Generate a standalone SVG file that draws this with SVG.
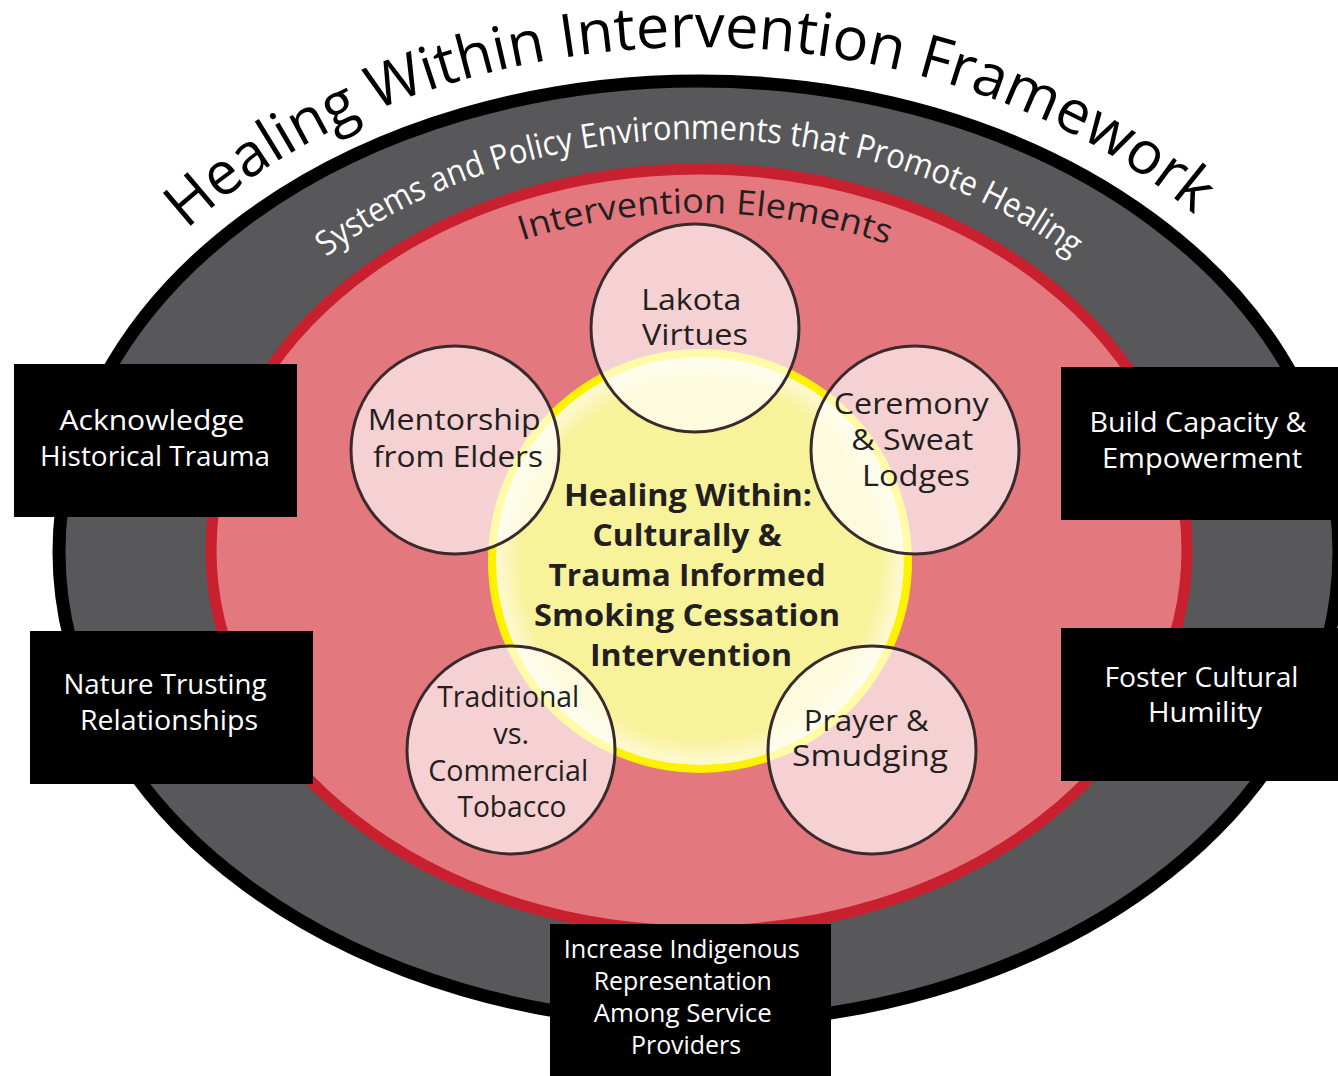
<svg xmlns="http://www.w3.org/2000/svg" width="1338" height="1076" viewBox="0 0 1338 1076">
  <defs>
    <style>
      .lbl { font-family: "Open Sans", "Liberation Sans", sans-serif; text-anchor: middle; }
      .box-t { fill: #ffffff; font-size: 27px; }
      .circ-t { fill: #231f20; font-size: 29px; }
      .core-t { fill: #231f20; font-size: 30px; font-weight: 700; }
      .box { fill: #000000; }
      .element { fill: #ffffff; fill-opacity: 0.66; stroke: #3a2a2c; stroke-width: 3; }
    </style>
    <radialGradient id="coreFill" cx="0.5" cy="0.5" r="0.5">
      <stop offset="0" stop-color="#f8f29b"/>
      <stop offset="0.86" stop-color="#f8f29b"/>
      <stop offset="0.95" stop-color="#fcf8c8"/>
      <stop offset="1" stop-color="#fdfad2"/>
    </radialGradient>
    <!-- baselines of the curved headings, concentric with the rings -->
    <path id="arcTitle" d="M 34,551 A 665 504 0 0 1 1364,551"/>
    <path id="arcSystems" d="M 167,551 A 532 412 0 0 1 1231,551"/>
    <path id="arcElements" d="M 251,551 A 448 338 0 0 1 1147,551"/>
  </defs>

  <rect x="0" y="0" width="1338" height="1076" fill="#ffffff"/>

  <!-- outer systems ring -->
  <g id="ring-systems">
    <ellipse cx="699" cy="552" rx="640" ry="471" fill="#58585a" stroke="#000000" stroke-width="13"/>
  </g>

  <!-- intervention elements field -->
  <g id="ring-elements">
    <ellipse cx="699" cy="550" rx="488" ry="381" fill="#e4787f" stroke="#c8202f" stroke-width="11"/>
  </g>

  <!-- curved headings -->
  <g id="headings" class="lbl">
    <text font-size="60" fill="#000000">
      <textPath href="#arcTitle" startOffset="911" textLength="1090" lengthAdjust="spacingAndGlyphs">Healing Within Intervention Framework</textPath>
    </text>
    <text font-size="34" fill="#ffffff">
      <textPath href="#arcSystems" startOffset="50%" textLength="795" lengthAdjust="spacingAndGlyphs">Systems and Policy Environments that Promote Healing</textPath>
    </text>
    <text font-size="34" fill="#231f20">
      <textPath href="#arcElements" startOffset="50.5%" textLength="372" lengthAdjust="spacingAndGlyphs">Intervention Elements</textPath>
    </text>
  </g>

  <!-- central intervention -->
  <g id="core">
    <circle cx="700" cy="561" r="208" fill="url(#coreFill)" stroke="#fff200" stroke-width="8"/>
    <text class="lbl core-t">
      <tspan x="692" y="506" textLength="248" lengthAdjust="spacingAndGlyphs">Healing Within:</tspan>
      <tspan x="691" y="546" textLength="189" lengthAdjust="spacingAndGlyphs">Culturally &amp;</tspan>
      <tspan x="691" y="586" textLength="277" lengthAdjust="spacingAndGlyphs">Trauma Informed</tspan>
      <tspan x="691" y="626" textLength="306" lengthAdjust="spacingAndGlyphs">Smoking Cessation</tspan>
      <tspan x="691" y="666" textLength="202" lengthAdjust="spacingAndGlyphs">Intervention</tspan>
    </text>
  </g>

  <!-- intervention element circles -->
  <g id="el-lakota">
    <circle class="element" cx="695" cy="328" r="104"/>
    <text class="lbl circ-t">
      <tspan x="695" y="310" textLength="100" lengthAdjust="spacingAndGlyphs">Lakota</tspan>
      <tspan x="695" y="345" textLength="106" lengthAdjust="spacingAndGlyphs">Virtues</tspan>
    </text>
  </g>
  <g id="el-mentorship">
    <circle class="element" cx="455" cy="450" r="104"/>
    <text class="lbl circ-t">
      <tspan x="458" y="430" textLength="173" lengthAdjust="spacingAndGlyphs">Mentorship</tspan>
      <tspan x="458" y="467" textLength="170" lengthAdjust="spacingAndGlyphs">from Elders</tspan>
    </text>
  </g>
  <g id="el-ceremony">
    <circle class="element" cx="915" cy="450" r="104"/>
    <text class="lbl circ-t">
      <tspan x="915" y="414" textLength="155" lengthAdjust="spacingAndGlyphs">Ceremony</tspan>
      <tspan x="916" y="450" textLength="122" lengthAdjust="spacingAndGlyphs">&amp; Sweat</tspan>
      <tspan x="916" y="486" textLength="108" lengthAdjust="spacingAndGlyphs">Lodges</tspan>
    </text>
  </g>
  <g id="el-tobacco">
    <circle class="element" cx="511" cy="750" r="104"/>
    <text class="lbl circ-t">
      <tspan x="512" y="707" textLength="142" lengthAdjust="spacingAndGlyphs">Traditional</tspan>
      <tspan x="515" y="744" textLength="36" lengthAdjust="spacingAndGlyphs">vs.</tspan>
      <tspan x="512" y="781" textLength="160" lengthAdjust="spacingAndGlyphs">Commercial</tspan>
      <tspan x="512" y="817" textLength="109" lengthAdjust="spacingAndGlyphs">Tobacco</tspan>
    </text>
  </g>
  <g id="el-prayer">
    <circle class="element" cx="872" cy="750" r="104"/>
    <text class="lbl circ-t">
      <tspan x="870" y="731" textLength="125" lengthAdjust="spacingAndGlyphs">Prayer &amp;</tspan>
      <tspan x="870" y="766" textLength="156" lengthAdjust="spacingAndGlyphs">Smudging</tspan>
    </text>
  </g>

  <!-- system-level strategy boxes -->
  <g id="box-trauma">
    <rect class="box" x="14" y="364" width="283" height="153"/>
    <text class="lbl box-t">
      <tspan x="155.5" y="430" textLength="185" lengthAdjust="spacingAndGlyphs">Acknowledge</tspan>
      <tspan x="155" y="466" textLength="230" lengthAdjust="spacingAndGlyphs">Historical Trauma</tspan>
    </text>
  </g>
  <g id="box-trust">
    <rect class="box" x="30" y="631" width="283" height="153"/>
    <text class="lbl box-t">
      <tspan x="168.5" y="694" textLength="203" lengthAdjust="spacingAndGlyphs">Nature Trusting</tspan>
      <tspan x="169" y="730" textLength="178" lengthAdjust="spacingAndGlyphs">Relationships</tspan>
    </text>
  </g>
  <g id="box-capacity">
    <rect class="box" x="1061" y="367" width="277" height="153"/>
    <text class="lbl box-t">
      <tspan x="1201.5" y="432" textLength="217" lengthAdjust="spacingAndGlyphs">Build Capacity &amp;</tspan>
      <tspan x="1202" y="468" textLength="200" lengthAdjust="spacingAndGlyphs">Empowerment</tspan>
    </text>
  </g>
  <g id="box-humility">
    <rect class="box" x="1061" y="628" width="277" height="153"/>
    <text class="lbl box-t">
      <tspan x="1205" y="687" textLength="194" lengthAdjust="spacingAndGlyphs">Foster Cultural</tspan>
      <tspan x="1205" y="722" textLength="114" lengthAdjust="spacingAndGlyphs">Humility</tspan>
    </text>
  </g>
  <g id="box-representation">
    <rect class="box" x="550" y="924" width="281" height="152"/>
    <text class="lbl box-t" style="font-size:25px">
      <tspan x="685" y="958" textLength="236" lengthAdjust="spacingAndGlyphs">Increase Indigenous</tspan>
      <tspan x="686" y="990" textLength="178" lengthAdjust="spacingAndGlyphs">Representation</tspan>
      <tspan x="686" y="1022" textLength="178" lengthAdjust="spacingAndGlyphs">Among Service</tspan>
      <tspan x="686" y="1054" textLength="110" lengthAdjust="spacingAndGlyphs">Providers</tspan>
    </text>
  </g>

  <!-- no connectors in this figure -->
  <g id="connectors"/>
</svg>
